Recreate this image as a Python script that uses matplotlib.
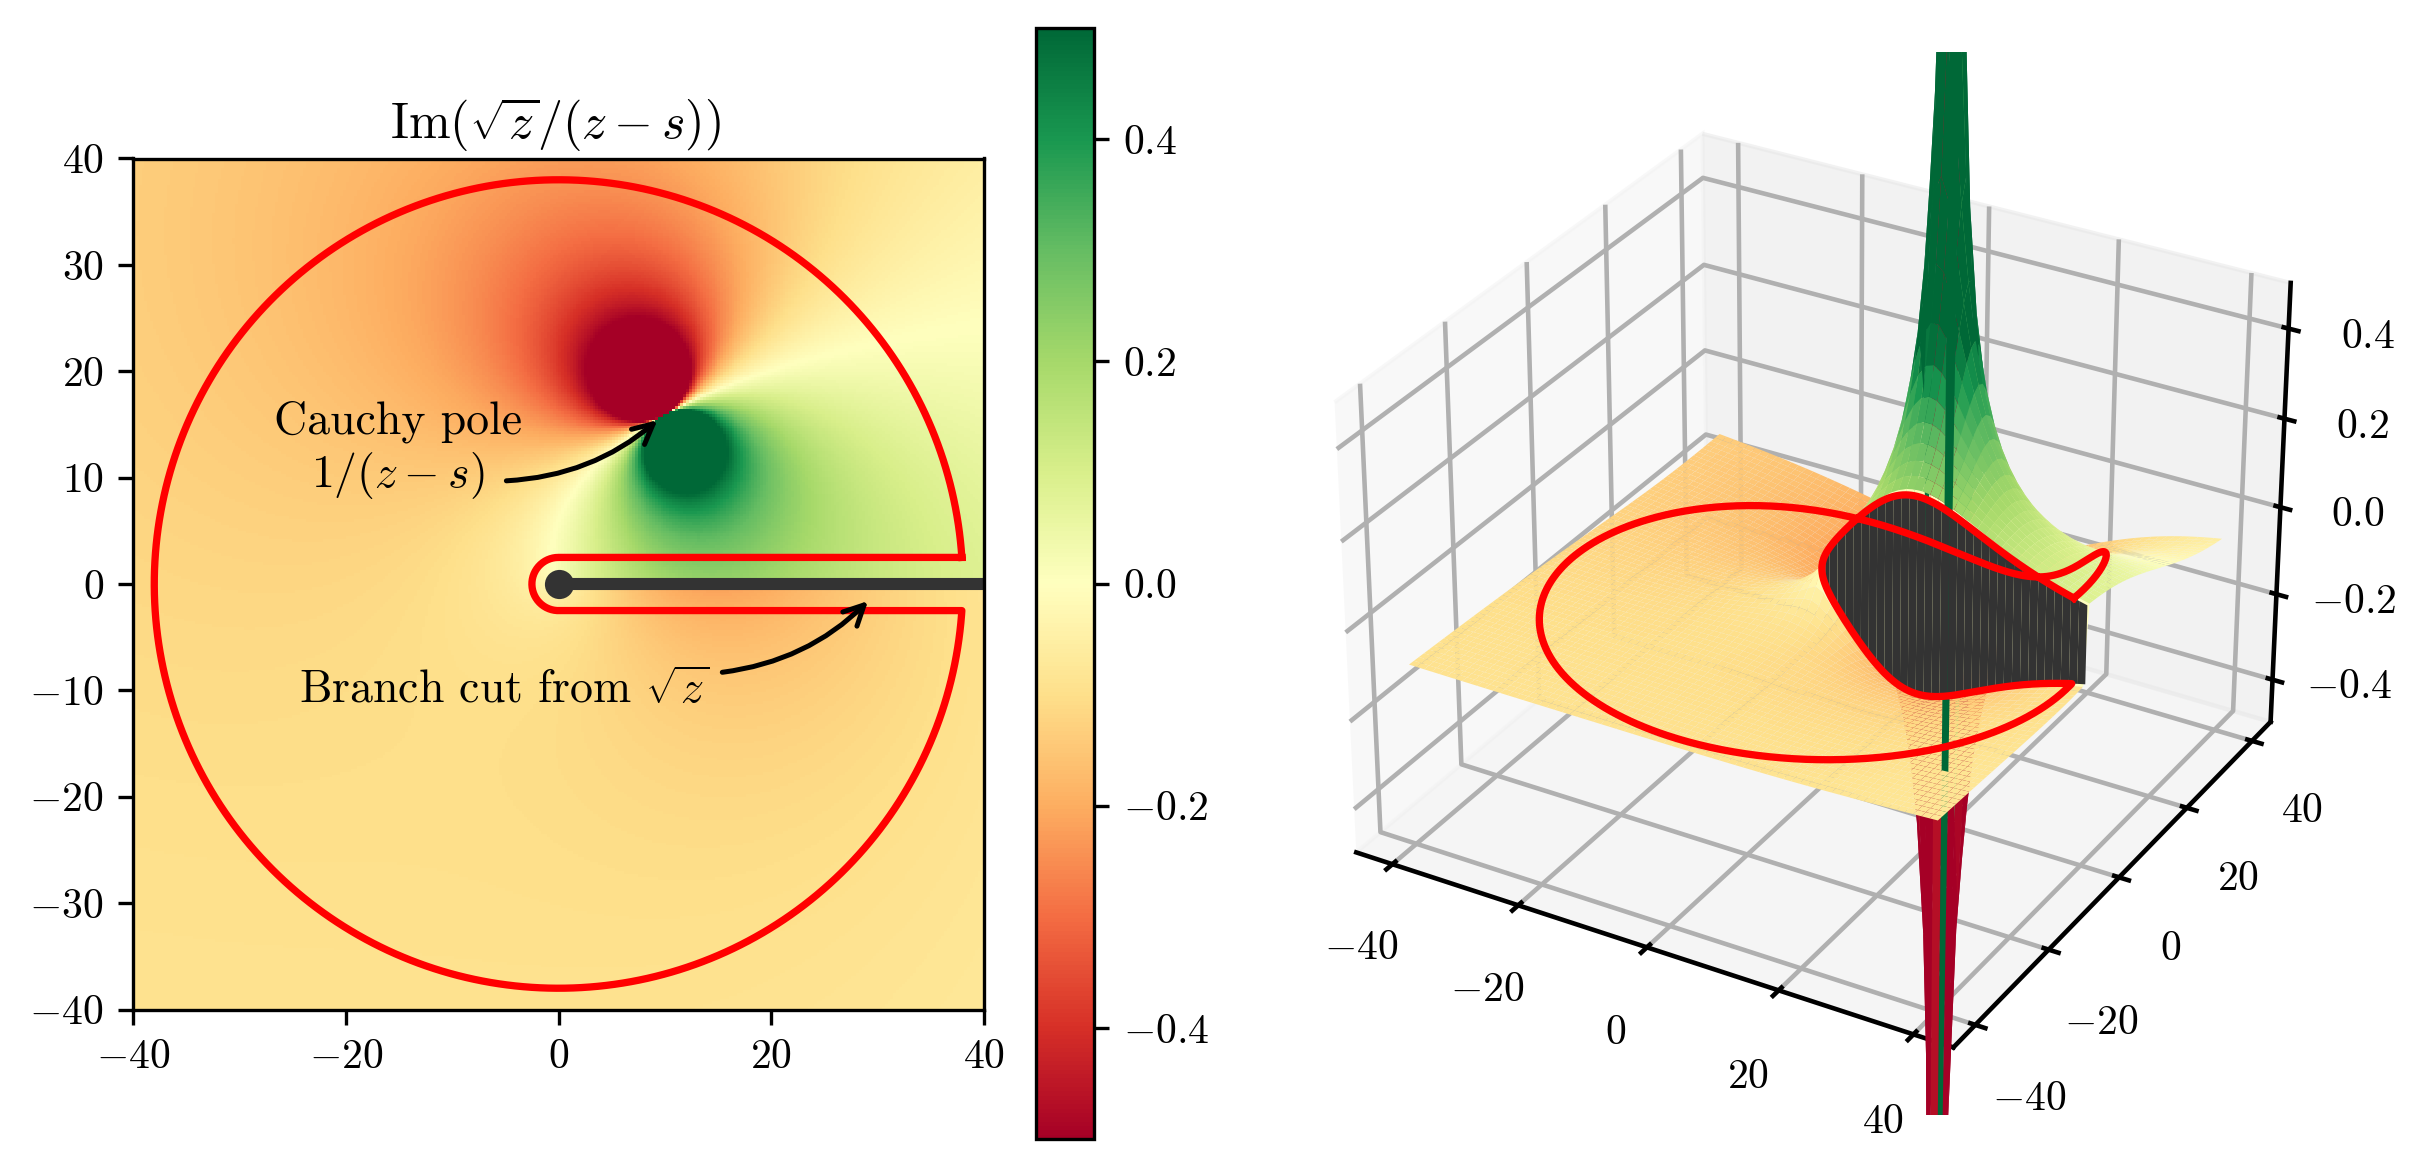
import numpy as np
import matplotlib
matplotlib.use("Agg")
import matplotlib.pyplot as plt

plt.rcParams["font.family"] = "serif"
plt.rcParams["font.serif"] = ["cmr10"]
plt.rcParams["mathtext.fontset"] = "cm"
plt.rcParams["axes.formatter.use_mathtext"] = True
plt.rcParams["axes.unicode_minus"] = True
plt.rcParams["font.size"] = 10

W, H = 2427, 1172

# pole and keyhole contour
pole = 10 + 16j
radius = 38.0
gap = 2.5
thin_gap = 1e-6
extent_lim = 40
levels = (-0.5, 0.5)

xy_ticks = [-40, -20, 0, 20, 40]
y_ticks_2d = [-40, -30, -20, -10, 0, 10, 20, 30, 40]
z_ticks = [-0.4, -0.2, 0.0, 0.2, 0.4]

cauchy_text = "Cauchy pole\n$1/(z-s)$"
cut_text = r"Branch cut from $\sqrt{z}$"
title_text = r"$\mathrm{Im}(\sqrt{z}/(z-s))$"


def f(z):
    # sqrt with its cut along the positive real axis
    return np.imag(1j * np.sqrt(-z) / (z - pole))


def rect(x0, y0, x1, y1):
    return [x0 / W, 1 - y1 / H, (x1 - x0) / W, (y1 - y0) / H]


def keyhole(d):
    a0 = np.arcsin(d / radius)
    arc = radius * np.exp(1j * np.linspace(a0, 2 * np.pi - a0, 600))
    low = np.linspace(arc[-1].real, 0, 400) ** 2 / arc[-1].real - 1j * d
    nose = d * np.exp(1j * np.linspace(-np.pi / 2, -3 * np.pi / 2, 60))
    up = np.linspace(0, arc[0].real, 400) ** 2 / arc[0].real + 1j * d
    return np.concatenate([arc, low, nose, up])


fig = plt.figure(figsize=(W / 300, H / 300), dpi=300)

# left: flat map
ax = fig.add_axes(rect(133, 158, 984, 1010))
g = np.linspace(-extent_lim, extent_lim, 300)
gx, gy = np.meshgrid(g, g)
im = ax.imshow(f(gx + 1j * gy), origin="lower", extent=(-40, 40, -40, 40),
               cmap="RdYlGn", vmin=levels[0], vmax=levels[1], interpolation="nearest")
path = keyhole(gap)
ax.plot([0, 40], [0, 0], color="#333333", lw=2.9, solid_capstyle="butt")
ax.plot([0], [0], "o", color="#333333", ms=7, mew=0)
ax.plot(path.real, path.imag, color="red", lw=1.75)
ax.set_xlim(-40, 40)
ax.set_ylim(-40, 40)
ax.set_xticks(xy_ticks)
ax.set_yticks(y_ticks_2d)
ax.set_title(title_text, fontsize=12, pad=5, x=0.497)

arrow = dict(arrowstyle="->", color="black", lw=1.2, mutation_scale=12,
             shrinkA=0, shrinkB=0, connectionstyle="arc3,rad=0.17")
ax.text(-15.1, 12.5, cauchy_text, ha="center", va="center", fontsize=11)
ax.annotate("", xy=(9.3, 15.4), xytext=(-4.9, 9.7), arrowprops=arrow)
ax.text(-5.1, -10, cut_text, ha="center", va="center", fontsize=11)
ax.annotate("", xy=(29.1, -1.6), xytext=(15.4, -8.3), arrowprops=arrow)

cax = fig.add_axes(rect(1036, 28, 1094, 1139))
cb = fig.colorbar(im, cax=cax)
cb.set_ticks(z_ticks)

# thicker rules on the 3d box
plt.rcParams["grid.linewidth"] = 1.1
plt.rcParams["axes.linewidth"] = 1.1
plt.rcParams["xtick.major.width"] = 1.1
plt.rcParams["ytick.major.width"] = 1.1

# right: same function as a surface
ax3 = fig.add_axes(rect(1276, 51, 2339, 1115), projection="3d", computed_zorder=False)
s = np.linspace(-extent_lim, extent_lim, 68)
sx, sy = np.meshgrid(s, s)
ax3.plot_surface(sx, sy, f(sx + 1j * sy), rstride=1, cstride=1, cmap="RdYlGn",
                 vmin=levels[0], vmax=levels[1], linewidth=0, zorder=1)

# wall joining the two sides of the cut
wx = np.concatenate([[0, 0.02, 0.1, 0.3, 0.6], np.linspace(1.2, 40, 33)])
top = f(wx + 1e-9j)
bottom = f(wx - 1e-9j)
ax3.plot_surface(np.vstack([wx, wx]), np.zeros((2, wx.size)), np.vstack([bottom, top]),
                 rstride=1, cstride=1, color="#333333", shade=False, linewidth=0, zorder=2)
path3 = keyhole(thin_gap)
ax3.plot(path3.real, path3.imag, f(path3), color="red", lw=1.75, zorder=3)

ax3.set_zlim(*levels)
ax3.set_xticks(xy_ticks)
ax3.set_yticks(xy_ticks)
ax3.set_zticks(z_ticks)

fig.savefig("out.png", dpi=300)
